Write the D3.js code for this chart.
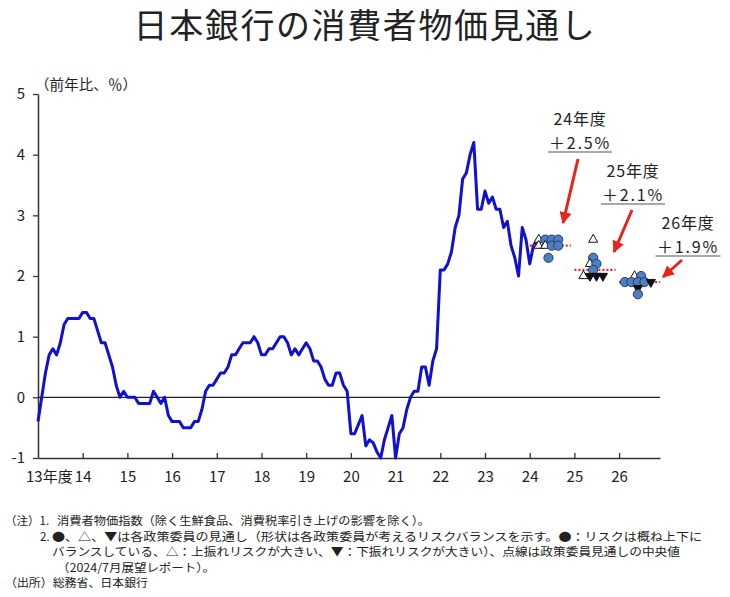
<!DOCTYPE html>
<html><head><meta charset="utf-8">
<script src="https://cdn.jsdelivr.net/npm/d3@7/dist/d3.min.js"></script>
<style>
body{margin:0;background:#fff}
svg{display:block}
text{font-family:"Noto Sans CJK JP","Noto Sans",sans-serif;fill:#222}
</style>
</head><body>
<svg id="chart" width="730" height="597"></svg>
<script>
// ---------------- data ----------------
const title = "日本銀行の消費者物価見通し";
const yAxisLabel = "（前年比、％）";
const firstFiscalYear = 13;            // series starts April of FY2013
const firstTickLabel = "13年度";
const xTickYears = [14,15,16,17,18,19,20,21,22,23,24,25,26];
const yTicks = [-1,0,1,2,3,4,5];

// Monthly CPI (less fresh food, excl. consumption-tax effects), y/y %, Apr-2013 .. Jun-2024
const cpiFY13 = [-0.4,0.0,0.4,0.7,0.8,0.7,0.9,1.2,1.3,1.3,1.3,1.3];
const cpiFY14 = [1.4,1.4,1.3,1.3,1.1,0.9,0.9,0.7,0.5,0.2,0.0,0.1];
const cpiFY15 = [0.0,0.0,0.0,-0.1,-0.1,-0.1,-0.1,0.1,0.0,-0.1,0.0,-0.3];
const cpiFY16 = [-0.4,-0.4,-0.4,-0.5,-0.5,-0.5,-0.4,-0.4,-0.2,0.1,0.2,0.2];
const cpiFY17 = [0.3,0.4,0.4,0.5,0.7,0.7,0.8,0.9,0.9,0.9,1.0,0.9];
const cpiFY18 = [0.7,0.7,0.8,0.8,0.9,1.0,1.0,0.9,0.7,0.8,0.7,0.8];
const cpiFY19 = [0.9,0.8,0.6,0.6,0.5,0.3,0.2,0.2,0.4,0.4,0.2,0.1];
const cpiFY20 = [-0.6,-0.6,-0.45,-0.3,-0.8,-0.7,-0.75,-0.9,-1.0,-0.7,-0.5,-0.3];
const cpiFY21 = [-1.0,-0.6,-0.5,-0.2,0.0,0.1,0.1,0.5,0.5,0.2,0.6,0.8];
const cpiFY22 = [2.1,2.1,2.2,2.4,2.8,3.0,3.6,3.7,4.0,4.2,3.1,3.1];
const cpiFY23 = [3.4,3.2,3.3,3.1,3.1,2.8,2.9,2.5,2.3,2.0,2.8,2.6];
const cpiFY24 = [2.2,2.5,2.6];

// Policy board members' forecasts (July 2024 Outlook Report)
// shape: "c" = balanced risks (circle), "u" = upside (open triangle), "d" = downside (filled down-triangle)
const forecastYears = [24,25,26];
const forecastLabels = ["24年度","25年度","26年度"];
const forecastMedians = [2.5,2.1,1.9];
const forecastMedianText = ["＋2.5%","＋2.1%","＋1.9%"];
const fy24Values = [2.6,2.6,2.6,2.6,2.5,2.5,2.5,2.5,2.3];
const fy24Shapes = ["u","c","c","c","u","u","c","c","c"];
const fy25Values = [2.6,2.3,2.2,2.2,2.1,2.0,2.0,2.0,2.0];
const fy25Shapes = ["u","c","u","c","c","u","d","d","d"];
const fy26Values = [2.0,2.0,1.9,1.9,1.9,1.9,1.9,1.8,1.7];
const fy26Shapes = ["u","c","c","c","c","c","d","d","c"];

const notes = [
  "（注）1.",
  "消費者物価指数（除く生鮮食品、消費税率引き上げの影響を除く）。",
  "2.",
  "●、△、▼は各政策委員の見通し（形状は各政策委員が考えるリスクバランスを示す。●：リスクは概ね上下に",
  "バランスしている、△：上振れリスクが大きい、▼：下振れリスクが大きい）、点線は政策委員見通しの中央値",
  "（2024/7月展望レポート）。",
  "（出所）総務省、日本銀行"
];

// ---------------- drawing ----------------
const svg = d3.select("#chart");
const cpi = [].concat(cpiFY13,cpiFY14,cpiFY15,cpiFY16,cpiFY17,cpiFY18,cpiFY19,cpiFY20,cpiFY21,cpiFY22,cpiFY23,cpiFY24);
const series = cpi.map((v,i)=>({t:firstFiscalYear + i/12, v}));

const x = d3.scaleLinear().domain([13, 26.915]).range([38, 660]);
const y = d3.scaleLinear().domain([-1, 5]).range([458, 94]);

// title
svg.append("text").attr("x",365).attr("y",38).attr("text-anchor","middle")
  .attr("font-size",34).attr("letter-spacing",1.6).text(title);

// y axis
const yAxis = svg.append("g").attr("transform",`translate(${x(13)},0)`)
  .call(d3.axisLeft(y).tickValues(yTicks).tickSizeInner(5).tickSizeOuter(0).tickPadding(8).tickFormat(d=>d));
yAxis.select(".domain").attr("stroke","#333").attr("stroke-width",1.5);
yAxis.selectAll(".tick line").attr("stroke","#333").attr("stroke-width",1.3);
yAxis.selectAll(".tick text").attr("font-size",15).style("font-family","'Noto Sans CJK JP'").attr("fill","#222");

svg.append("text").attr("x",35).attr("y",90).attr("font-size",14.5)
  .attr("textLength",102).attr("lengthAdjust","spacing").text(yAxisLabel);

// x axis
const xAxis = svg.append("g").attr("transform",`translate(0,${y(-1)})`)
  .call(d3.axisBottom(x).tickValues(xTickYears).tickSizeInner(-5).tickSizeOuter(0).tickPadding(13).tickFormat(d=>d));
xAxis.select(".domain").attr("stroke","#333").attr("stroke-width",1.5);
xAxis.selectAll(".tick line").attr("stroke","#333").attr("stroke-width",1.3);
xAxis.selectAll(".tick text").attr("font-size",15).attr("fill","#222");
svg.append("text").attr("x",x(14)-10).attr("y",y(-1)+13+15*0.71).attr("text-anchor","end")
  .attr("font-size",15).text(firstTickLabel);

// zero line
svg.append("line").attr("x1",x(13)).attr("x2",x.range()[1])
  .attr("y1",y(0)).attr("y2",y(0)).attr("stroke","#222").attr("stroke-width",1.2);

// CPI line
svg.append("path").datum(series)
  .attr("fill","none").attr("stroke","#1010d0").attr("stroke-width",3).attr("stroke-linejoin","round")
  .attr("d", d3.line().x(d=>x(d.t)).y(d=>y(d.v)));

// forecasts
const memberSets = [
  {vals:fy24Values, shapes:fy24Shapes},
  {vals:fy25Values, shapes:fy25Shapes},
  {vals:fy26Values, shapes:fy26Shapes}
];
const shapeOrder = {u:0,c:1,d:2};
const step = 6.5;
forecastYears.forEach((fy,k)=>{
  const cx = x(fy + 0.42);
  svg.append("line").attr("x1",x(fy)).attr("x2",x(fy+0.92))
    .attr("y1",y(forecastMedians[k])).attr("y2",y(forecastMedians[k]))
    .attr("stroke","#e02a2a").attr("stroke-width",2.2).attr("stroke-dasharray","2,2");
  const members = memberSets[k].vals.map((v,i)=>({v, s:memberSets[k].shapes[i]}));
  const groups = d3.groups(members, d=>d.v);
  groups.forEach(([v, arr])=>{
    arr.sort((a,b)=>shapeOrder[a.s]-shapeOrder[b.s]);
    arr.forEach((m,i)=>{
      const px = cx + (i-(arr.length-1)/2)*step;
      const py = y(v);
      if(m.s==="c"){
        svg.append("circle").attr("cx",px).attr("cy",py).attr("r",4.6)
          .attr("fill","#4f7fbf").attr("stroke","#1f3c6e").attr("stroke-width",1);
      } else if(m.s==="u"){
        svg.append("path").attr("d",d3.symbol(d3.symbolTriangle,36)())
          .attr("transform",`translate(${px},${py})`)
          .attr("fill","#fff").attr("stroke","#111").attr("stroke-width",1);
      } else {
        svg.append("path").attr("d",d3.symbol(d3.symbolTriangle,36)())
          .attr("transform",`translate(${px},${py}) rotate(180)`)
          .attr("fill","#111").attr("stroke","#111").attr("stroke-width",1);
      }
    });
  });
});

// annotations
const defs = svg.append("defs");
defs.append("marker").attr("id","ah").attr("viewBox","0 0 10 10").attr("refX",9).attr("refY",5)
  .attr("markerWidth",4).attr("markerHeight",4).attr("orient","auto-start-reverse")
  .append("path").attr("d","M0,0 L10,5 L0,10 z").attr("fill","#e8231c");

const annot = [
  {cx:580, yTop:125, w2:60, ax1:578, ay1:159, ax2:563, ay2:223},
  {cx:633, yTop:177, w2:60, ax1:632, ay1:210, ax2:614, ay2:252},
  {cx:688, yTop:229, w2:61, ax1:682, ay1:260, ax2:663, ay2:277}
];
const lineGap = 23.5;
annot.forEach((a,k)=>{
  svg.append("text").attr("x",a.cx).attr("y",a.yTop).attr("text-anchor","middle")
    .attr("font-size",16).attr("letter-spacing",0.8).text(forecastLabels[k]);
  svg.append("text").attr("x",a.cx).attr("y",a.yTop+lineGap).attr("text-anchor","middle")
    .attr("font-size",16).attr("letter-spacing",1.8).text(forecastMedianText[k]);
  svg.append("line").attr("x1",a.cx-a.w2/2-2).attr("x2",a.cx+a.w2/2+2)
    .attr("y1",a.yTop+lineGap+3.5).attr("y2",a.yTop+lineGap+3.5).attr("stroke","#555").attr("stroke-width",1.2);
  svg.append("line").attr("x1",a.ax1).attr("y1",a.ay1).attr("x2",a.ax2).attr("y2",a.ay2)
    .attr("stroke","#e8231c").attr("stroke-width",3).attr("marker-end","url(#ah)");
});

// footnotes
const fs = 11.5;
const noteY = [525, 540.5, 556, 571.5, 587];
svg.append("text").attr("x",5).attr("y",noteY[0]).attr("font-size",fs).text(notes[0]);
svg.append("text").attr("x",57).attr("y",noteY[0]).attr("font-size",fs).attr("textLength",373).attr("lengthAdjust","spacingAndGlyphs").text(notes[1]);
svg.append("text").attr("x",40).attr("y",noteY[1]).attr("font-size",fs).text(notes[2]);
svg.append("text").attr("x",52).attr("y",noteY[1]).attr("font-size",fs).attr("textLength",650).attr("lengthAdjust","spacingAndGlyphs").text(notes[3]);
svg.append("text").attr("x",52).attr("y",noteY[2]).attr("font-size",fs).attr("textLength",628).attr("lengthAdjust","spacingAndGlyphs").text(notes[4]);
svg.append("text").attr("x",57).attr("y",noteY[3]).attr("font-size",fs).attr("textLength",158).attr("lengthAdjust","spacingAndGlyphs").text(notes[5]);
svg.append("text").attr("x",5).attr("y",noteY[4]).attr("font-size",fs).attr("textLength",143).attr("lengthAdjust","spacingAndGlyphs").text(notes[6]);
</script>
</body></html>
